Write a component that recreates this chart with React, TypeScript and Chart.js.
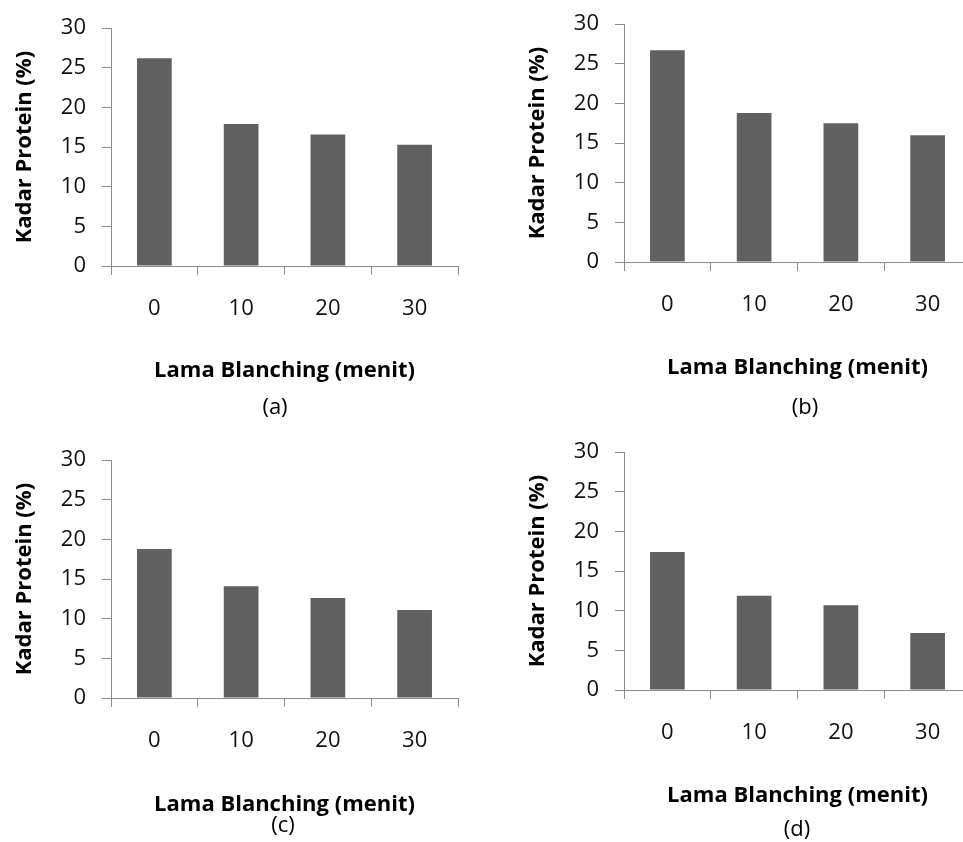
import React, { useEffect, useRef } from "react";
import { Chart, registerables } from "chart.js";

Chart.register(...registerables);

const categories = ["0", "10", "20", "30"];
const valuesA = [26.2, 17.9, 16.6, 15.3];
const valuesB = [26.7, 18.8, 17.5, 16.0];
const valuesC = [18.8, 14.1, 12.6, 11.1];
const valuesD = [17.4, 11.9, 10.7, 7.2];
const yTicks = [0, 5, 10, 15, 20, 25, 30];
const yTitle = "Kadar Protein (%)";
const xTitle = "Lama Blanching (menit)";
const panelLabels = ["(a)", "(b)", "(c)", "(d)"];

const FONT = "'Open Sans', 'Liberation Sans', sans-serif";
const AXIS = "#8c8c8c";
const BAR = "#606060";

const W = 480;
const H = 420;

type PanelProps = {
  values: number[];
  left: number;
  top: number;
  xTitleBelow: number;
};

function Panel({ values, left, top, xTitleBelow }: PanelProps) {
  const ref = useRef<HTMLCanvasElement | null>(null);
  useEffect(() => {
    if (!ref.current) return;
    const titleSize = 22;
    const lh = titleSize * 1.2;
    const axisBottomLocal = 24 + 243;
    const padBottom = H - (axisBottomLocal + xTitleBelow) - lh / 2;
    const chart = new Chart(ref.current, {
      type: "bar",
      data: {
        labels: categories,
        datasets: [
          {
            data: values,
            backgroundColor: BAR,
            borderWidth: 0,
            categoryPercentage: 1,
            barPercentage: 0.4,
          },
        ],
      },
      options: {
        animation: false,
        responsive: false,
        devicePixelRatio: 1,
        layout: { padding: { left: 0, top: 24, right: 23, bottom: 0 } },
        plugins: { legend: { display: false }, tooltip: { enabled: false } },
        scales: {
          x: {
            afterFit: (s: any) => {
              s.height = H - 24 - 243;
            },
            grid: {
              display: true,
              drawOnChartArea: false,
              drawTicks: true,
              tickLength: 9,
              color: AXIS,
              offset: true,
            },
            border: { display: true, color: AXIS, width: 1 },
            ticks: {
              color: "#111",
              font: { family: FONT, size: 22 },
              padding: 21,
              maxRotation: 0,
            },
            title: {
              display: true,
              text: xTitle,
              color: "#000",
              font: { family: FONT, size: titleSize, weight: "bold" },
              padding: { top: 0, bottom: padBottom },
            },
          },
          y: {
            min: 0,
            max: 30,
            afterFit: (s: any) => {
              s.width = 110;
            },
            afterBuildTicks: (s: any) => {
              s.ticks = yTicks.map((v) => ({ value: v }));
            },
            grid: {
              display: true,
              drawOnChartArea: false,
              drawTicks: true,
              tickLength: 9,
              color: AXIS,
            },
            border: { display: true, color: AXIS, width: 1 },
            ticks: {
              color: "#111",
              font: { family: FONT, size: 22 },
              padding: 16,
            },
            title: {
              display: true,
              text: yTitle,
              color: "#000",
              font: { family: FONT, size: titleSize, weight: "bold" },
              padding: { top: 24 - lh / 2, bottom: 0 },
            },
          },
        },
      },
    });
    return () => chart.destroy();
  }, [values, xTitleBelow]);
  return (
    <canvas
      ref={ref}
      width={W}
      height={H}
      style={{ position: "absolute", left, top, width: W, height: H }}
    />
  );
}

function Label({ text, cx, cy }: { text: string; cx: number; cy: number }) {
  return (
    <div
      style={{
        position: "absolute",
        left: cx - 40,
        top: cy - 15,
        width: 80,
        height: 30,
        lineHeight: "30px",
        textAlign: "center",
        fontFamily: FONT,
        fontSize: 22,
        color: "#000",
      }}
    >
      {text}
    </div>
  );
}

export default function App() {
  return (
    <div
      style={{
        position: "absolute",
        left: 0,
        top: 0,
        width: 963,
        height: 842,
        overflow: "hidden",
        background: "#fff",
      }}
    >
      <Panel values={valuesA} left={1} top={-1} xTitleBelow={105} />
      <Panel values={valuesB} left={514} top={-5} xTitleBelow={106} />
      <Panel values={valuesC} left={1} top={431} xTitleBelow={107} />
      <Panel values={valuesD} left={514} top={423} xTitleBelow={106} />
      <Label text={panelLabels[0]} cx={275} cy={405} />
      <Label text={panelLabels[1]} cx={805} cy={405} />
      <Label text={panelLabels[2]} cx={283} cy={823} />
      <Label text={panelLabels[3]} cx={797} cy={827} />
    </div>
  );
}
